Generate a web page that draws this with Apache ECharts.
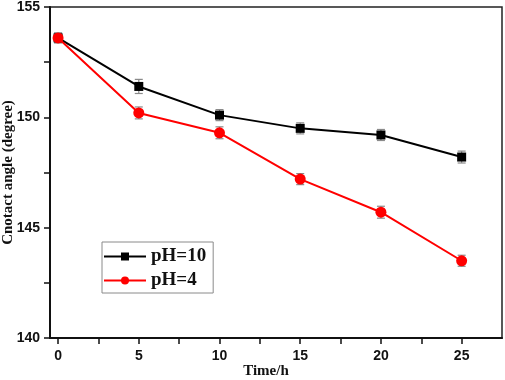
<!DOCTYPE html>
<html>
<head>
<meta charset="utf-8">
<script src="https://cdn.jsdelivr.net/npm/echarts@6/dist/echarts.min.js"></script>
<style>
  html, body { margin: 0; padding: 0; background: #fff; }
  #chart { width: 505px; height: 380px; }
</style>
</head>
<body>
<div id="chart"></div>
<script>
// time in hours
var times = [0, 5, 10, 15, 20, 25]
// contact angle, degree
var ph10 = [153.6, 151.4, 150.1, 149.5, 149.2, 148.2]
var ph10Err = [0.22, 0.32, 0.25, 0.25, 0.25, 0.27]
var ph4 = [153.6, 150.2, 149.3, 147.2, 145.7, 143.5]
var ph4Err = [0.22, 0.27, 0.27, 0.25, 0.27, 0.25]
var xLabels = [0, 5, 10, 15, 20, 25]
var xTicks = [0, 2.5, 5, 7.5, 10, 12.5, 15, 17.5, 20, 22.5, 25]
var yLabels = [140, 145, 150, 155]
var yTicks = [140, 142.5, 145, 147.5, 150, 152.5, 155]

var serif = '"Liberation Serif", "DejaVu Serif", serif'
var sans = '"Liberation Sans", Arial, sans-serif'

function pairs(ys) {
  return times.map(function (t, i) { return [t, ys[i]] })
}
function errPairs(ys, es) {
  return times.map(function (t, i) { return [t, ys[i] - es[i], ys[i] + es[i]] })
}

function errorBar(params, api) {
  var x = api.value(0)
  var lo = api.coord([x, api.value(1)])
  var hi = api.coord([x, api.value(2)])
  var w = 4
  var style = { stroke: '#8a8a8a', lineWidth: 1.2 }
  return {
    type: 'group',
    children: [
      { type: 'line', shape: { x1: lo[0], y1: lo[1], x2: hi[0], y2: hi[1] }, style: style },
      { type: 'line', shape: { x1: lo[0] - w, y1: lo[1], x2: lo[0] + w, y2: lo[1] }, style: style },
      { type: 'line', shape: { x1: hi[0] - w, y1: hi[1], x2: hi[0] + w, y2: hi[1] }, style: style }
    ]
  }
}

var chart = echarts.init(document.getElementById('chart'))
chart.setOption({
  animation: false,
  grid: {
    left: 50, right: 3, top: 7, bottom: 42,
    outerBoundsMode: 'none',
    containLabel: false,
    show: true, borderColor: '#222', borderWidth: 1.5
  },
  legend: {
    data: ['pH=10', 'pH=4'],
    orient: 'vertical',
    left: 102, top: 242,
    selectedMode: false,
    borderColor: '#8a8a8a', borderWidth: 1,
    padding: [5, 7, 3, 1],
    itemWidth: 42, itemHeight: 10, itemGap: 5,
    textStyle: { fontFamily: serif, fontWeight: 'bold', fontSize: 19, color: '#111' }
  },
  xAxis: {
    type: 'value',
    min: -0.5, max: 27.5,
    name: 'Time/h',
    nameLocation: 'middle', nameGap: 26, nameMoveOverlap: false,
    nameTextStyle: { fontFamily: serif, fontWeight: 'bold', fontSize: 15, color: '#111', padding: [0, 20, 0, 0] },
    axisLine: { show: true, onZero: false, lineStyle: { color: '#111', width: 2 } },
    axisTick: { show: true, length: 6, customValues: xTicks, lineStyle: { color: '#111', width: 1.5 } },
    axisLabel: { customValues: xLabels, margin: 11, fontFamily: sans, fontWeight: 'bold', fontSize: 14, color: '#111' },
    splitLine: { show: false }
  },
  yAxis: {
    type: 'value',
    min: 140, max: 155,
    name: 'Cnotact angle (degree)',
    nameLocation: 'middle', nameGap: 34, nameMoveOverlap: false,
    nameTextStyle: { fontFamily: serif, fontWeight: 'bold', fontSize: 15, color: '#111' },
    axisLine: { show: true, onZero: false, lineStyle: { color: '#111', width: 2 } },
    axisTick: { show: true, length: 6, customValues: yTicks, lineStyle: { color: '#111', width: 1.5 } },
    axisLabel: { customValues: yLabels, margin: 10, fontFamily: sans, fontWeight: 'bold', fontSize: 14, color: '#111' },
    splitLine: { show: false }
  },
  series: [
    {
      type: 'custom', name: 'err10', renderItem: errorBar,
      data: errPairs(ph10, ph10Err), z: 1, silent: true
    },
    {
      type: 'custom', name: 'err4', renderItem: errorBar,
      data: errPairs(ph4, ph4Err), z: 1, silent: true
    },
    {
      name: 'pH=10', type: 'line', data: pairs(ph10), z: 3,
      symbol: 'rect', symbolSize: 9,
      itemStyle: { color: '#000' },
      lineStyle: { color: '#000', width: 2 }
    },
    {
      name: 'pH=4', type: 'line', data: pairs(ph4), z: 4,
      symbol: 'circle', symbolSize: 11,
      itemStyle: { color: '#ff0000' },
      lineStyle: { color: '#ff0000', width: 2 }
    }
  ]
})
</script>
</body>
</html>
